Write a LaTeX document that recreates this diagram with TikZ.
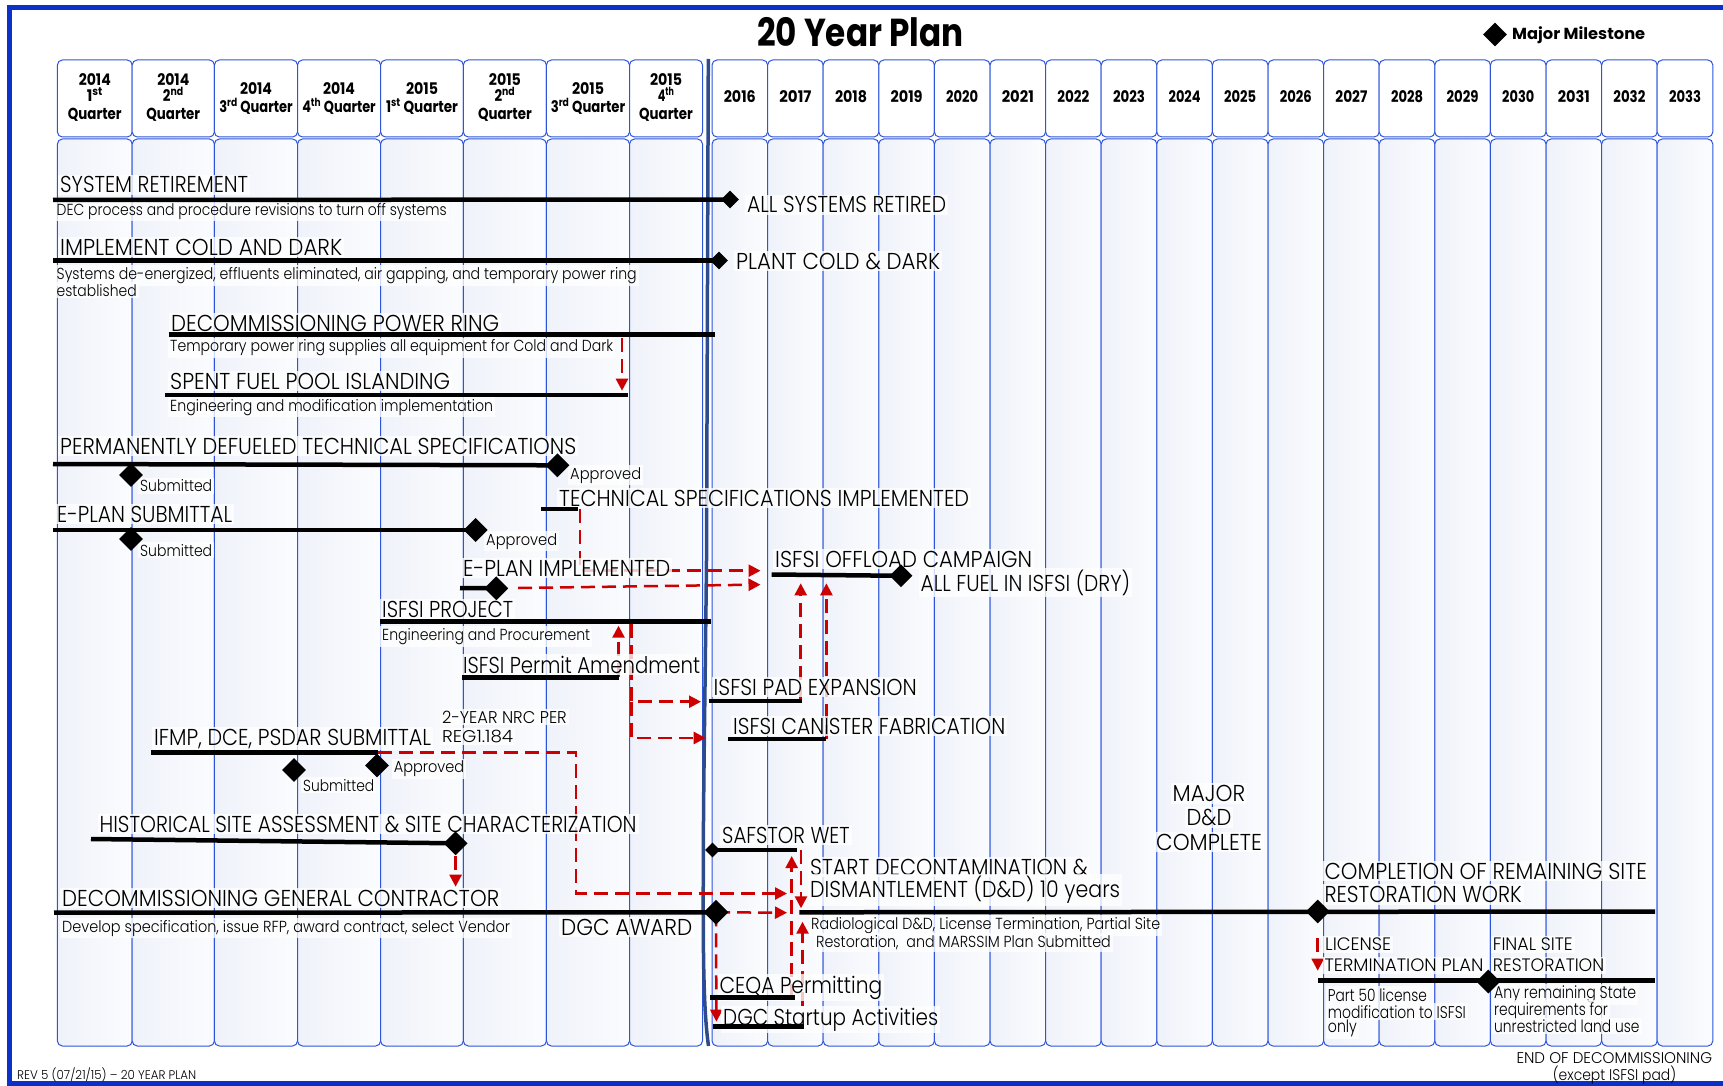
\documentclass[tikz,border=0pt]{standalone}
\usepackage{fontspec}
\IfFontExistsTF{Poppins Light}{\setmainfont{Poppins Light}}{\setmainfont{Poppins}}
\newfontfamily\hdfont{Poppins}
\usepackage{graphicx}
\usetikzlibrary{arrows.meta,shapes.geometric}
\definecolor{frameblue}{RGB}{10,50,200}
\definecolor{cellblue}{RGB}{45,85,220}
\definecolor{cellfillL}{RGB}{239,242,250}
\definecolor{cellfillR}{RGB}{251,252,254}
\definecolor{navyline}{RGB}{46,76,140}
\definecolor{ddred}{RGB}{204,0,0}
\newcommand{\W}[2]{\resizebox{#1pt}{\height}{#2}}
\begin{document}
\begin{tikzpicture}[x=1pt,y=-1pt,
 cellbox/.style={draw=cellblue,line width=1pt,rounded corners=5pt},
 bodycell/.style={cellbox,left color=cellfillL,right color=cellfillR},
 barline/.style={line width=4.5pt,black},
 mstone/.style={diamond,fill=black,inner sep=0pt,minimum width=#1pt,minimum height=#1pt},
 mstone/.default=24,
 redarrow/.style={draw=ddred,line width=2.5pt,dash pattern=on 14pt off 7pt,-{Triangle[length=12pt,width=12pt]}},
 lbl/.style={anchor=base west,xshift=-2pt,inner sep=2pt,fill=white,fill opacity=0.78,text opacity=1,font=\fontsize{23}{27}\selectfont},
 lblc/.style={lbl,anchor=base,xshift=0pt},
 lblm/.style={lbl,font=\fontsize{18}{21}\selectfont},
 sublbl/.style={lbl,font=\fontsize{16}{19}\selectfont},
 smlbl/.style={lbl,font=\fontsize{17}{20}\selectfont},
 plain/.style={inner sep=0pt,font=\fontsize{15.5}{18}\selectfont},
 hd/.style={anchor=base,inner sep=0pt,font=\hdfont\fontsize{16}{19}\selectfont\bfseries}]
\useasboundingbox (0,0) rectangle (1723,1086);
% frame
\draw[frameblue,line width=5pt] (1730,7.5) -- (9,7.5) -- (9,1083.5) -- (1730,1083.5);
% cells
\foreach \a/\b in {57.4/132.2,132.2/214.4,214.4/297.5,297.5/380.6,380.6/463.3,463.3/546.4,546.4/629.5,629.5/702.5}{
  \draw[cellbox,fill=white] (\a,60) rectangle (\b,137);
  \draw[bodycell] (\a,139) rectangle (\b,1046);
}
\foreach \i in {0,...,17}{
  \pgfmathsetmacro\a{712+55.6*\i}
  \pgfmathsetmacro\b{712+55.6*(\i+1)}
  \draw[cellbox,fill=white] (\a,60) rectangle (\b,137);
  \draw[bodycell] (\a,139) rectangle (\b,1046);
}
% separator
\draw[navyline,line width=3.5pt] (708.3,59) -- (706.5,560) .. controls (705,700) and (703.5,780) .. (703.3,860) .. controls (703,960) and (703.5,1010) .. (708.5,1046);
% header texts
\node[anchor=base west,inner sep=0pt,font=\hdfont\fontsize{39}{44}\selectfont\bfseries] (title) at (757,47) {\W{206}{20 Year Plan}};
\node[mstone=24] (leg) at (1495,34.5) {};
\node[anchor=base west,inner sep=0pt,font=\hdfont\fontsize{16}{19}\selectfont\bfseries] (legt) at (1512,39.3) {\W{133}{Major Milestone}};
\node[hd] (q1a) at (94.8,86) {\W{32}{2014}};
\node[hd] (q1b) at (94.8,102) {\W{16}{1\textsuperscript{st}}};
\node[hd] (q1c) at (94.8,119.5) {\W{53.7}{Quarter}};
\node[hd] (q2a) at (173.3,86) {\W{32}{2014}};
\node[hd] (q2b) at (173.3,102) {\W{20.7}{2\textsuperscript{nd}}};
\node[hd] (q2c) at (173.3,119.5) {\W{53.7}{Quarter}};
\node[hd] (q3a) at (256,94.3) {\W{32}{2014}};
\node[hd] (q3b) at (256,112.5) {\W{73.5}{3\textsuperscript{rd} Quarter}};
\node[hd] (q4a) at (339,94.3) {\W{32}{2014}};
\node[hd] (q4b) at (339,112.5) {\W{73.5}{4\textsuperscript{th} Quarter}};
\node[hd] (q5a) at (422,94.3) {\W{32}{2015}};
\node[hd] (q5b) at (422,112.5) {\W{72}{1\textsuperscript{st} Quarter}};
\node[hd] (q6a) at (504.9,86) {\W{32}{2015}};
\node[hd] (q6b) at (504.9,102) {\W{20.7}{2\textsuperscript{nd}}};
\node[hd] (q6c) at (504.9,119.5) {\W{53.7}{Quarter}};
\node[hd] (q7a) at (588,94.3) {\W{32}{2015}};
\node[hd] (q7b) at (588,112.5) {\W{74.4}{3\textsuperscript{rd} Quarter}};
\node[hd] (q8a) at (666,86) {\W{32}{2015}};
\node[hd] (q8b) at (666,102) {\W{16.5}{4\textsuperscript{th}}};
\node[hd] (q8c) at (666,119.5) {\W{53.7}{Quarter}};
\foreach \i in {0,...,17}{
  \pgfmathtruncatemacro\yr{2016+\i}
  \node[hd] (y\i) at ({712+55.6*(\i+0.5)},103) {\W{32}{\yr}};
}
% coordinates
\coordinate (p1a) at (53,200);      \coordinate (p1m) at (730,199.5);
\coordinate (p2a) at (53,260.5);    \coordinate (p2m) at (719,260.5);
\coordinate (p3a) at (168.5,334.3); \coordinate (p3b) at (715,334.3);
\coordinate (p4a) at (165,395);     \coordinate (p4b) at (628,395);
\coordinate (p5a) at (53,464);      \coordinate (p5m) at (557.4,465.3); \coordinate (p5s) at (131,475);
\coordinate (p6a) at (541,509.3);   \coordinate (p6b) at (578,509.3);
\coordinate (p7a) at (53,530);      \coordinate (p7m) at (475.6,530);   \coordinate (p7s) at (131,539);
\coordinate (p8a) at (460,588);     \coordinate (p8m) at (496.3,588.3);
\coordinate (p9a) at (771.7,574.5); \coordinate (p9m) at (901,575.8);
\coordinate (p10a) at (380,621.7);  \coordinate (p10b) at (710.6,621.7);
\coordinate (p11a) at (462,677.3);  \coordinate (p11b) at (619,677.3);
\coordinate (p12a) at (708.6,701);  \coordinate (p12b) at (801.7,701);
\coordinate (p13a) at (728,739);    \coordinate (p13b) at (826,739);
\coordinate (p15a) at (151,752.3);  \coordinate (p15b) at (378,752.3); \coordinate (p15m) at (377,765.5); \coordinate (p15s) at (294,770);
\coordinate (p16a) at (91,839);     \coordinate (p16m) at (455.6,843.3);
\coordinate (p17a) at (54,912.7);   \coordinate (p17m) at (716,912.3);
\coordinate (p18m) at (712.5,850);  \coordinate (p18b) at (796.7,850);
\coordinate (p19a) at (799.4,912.3);\coordinate (p19m) at (1317.7,911.5); \coordinate (p19b) at (1655,911.5);
\coordinate (p20a) at (710,997.7);  \coordinate (p20b) at (794.8,997.7);
\coordinate (p21a) at (712.5,1026.7); \coordinate (p21b) at (803.6,1026.7);
\coordinate (p24a) at (1317.7,980.7); \coordinate (p24m) at (1488.3,981.5); \coordinate (p24b) at (1655,980.7);
% red coordinates
\coordinate (r1a) at (622,338);     \coordinate (r1b) at (622,390.7);
\coordinate (r2a) at (580,509.3);   \coordinate (r2b) at (760.5,570.7);
\coordinate (r3a) at (518,588);     \coordinate (r3b) at (760.5,584.6);
\coordinate (r4a) at (800.7,701);   \coordinate (r4b) at (800.7,583.3);
\coordinate (r5a) at (826.4,739);   \coordinate (r5b) at (826.4,583.3);
\coordinate (r6a) at (618.5,677.3); \coordinate (r6b) at (618.5,625.7);
\coordinate (r7a) at (631.6,624);   \coordinate (r7b) at (701,701.7);
\coordinate (r7c) at (631.6,701.7); \coordinate (r7d) at (705.7,738);
\coordinate (r8c) at (575.9,893.5); \coordinate (r8b) at (787,893.5);
\coordinate (r9a) at (455.6,856);   \coordinate (r9b) at (455.6,886.7);
\coordinate (r10b) at (787,912.7);
\coordinate (r11b) at (716.4,1021.7);
\coordinate (r12a) at (801,850);    \coordinate (r12b) at (801,908.3);
\coordinate (r13a) at (791.7,997.7);\coordinate (r13b) at (791.7,856);
\coordinate (r14a) at (802.5,1026.7); \coordinate (r14b) at (802.5,921.7);
\coordinate (r15a) at (1317.7,938); \coordinate (r15b) at (1317.7,970.7);
% red dashed connectors
\draw[redarrow] (r1a) -- (r1b);
\draw[redarrow] (r2a) |- (r2b);
\draw[redarrow] (r3a) -- (r3b);
\draw[redarrow] (r4a) -- (r4b);
\draw[redarrow] (r5a) -- (r5b);
\draw[redarrow] (r6a) -- (r6b);
\draw[redarrow] (r7a) |- (r7b);
\draw[redarrow] (r7c) |- (r7d);
\draw[redarrow] (p15b) -| (r8c) -- (r8b);
\draw[redarrow] (r9a) -- (r9b);
\draw[redarrow] (p17m) -- (r10b);
\draw[redarrow] (p17m) -- (r11b);
\draw[redarrow] (r12a) -- (r12b);
\draw[redarrow] (r13a) -- (r13b);
\draw[redarrow] (r14a) -- (r14b);
\draw[redarrow] (r15a) -- (r15b);
% labels
\node[lbl] (t1) at (60,193) {\W{188}{SYSTEM RETIREMENT}};
\node[sublbl] (t1s) at (56.5,215) {\W{390}{DEC process and procedure revisions to turn off systems}};
\node[lbl] (t1m) at (747,213) {\W{199}{ALL SYSTEMS RETIRED}};
\node[lbl] (t2) at (60,255) {\W{282}{IMPLEMENT COLD AND DARK}};
\node[sublbl] (t2s) at (56.5,279.3) {\W{580}{Systems de-energized, effluents eliminated, air gapping, and temporary power ring}};
\node[sublbl] (t2s2) at (56.5,296) {\W{80}{established}};
\node[lbl] (t2m) at (736,269) {\W{204}{PLANT COLD \& DARK}};
\node[lbl] (t3) at (171,331) {\W{328}{DECOMMISSIONING POWER RING}};
\node[sublbl] (t3s) at (170,351.7) {\W{443}{Temporary power ring supplies all equipment for Cold and Dark}};
\node[lbl] (t4) at (170,389) {\W{280}{SPENT FUEL POOL ISLANDING}};
\node[sublbl] (t4s) at (170,411) {\W{323}{Engineering and modification implementation}};
\node[lbl] (t5) at (60,454) {\W{516}{PERMANENTLY DEFUELED TECHNICAL SPECIFICATIONS}};
\node[sublbl] (t5a) at (140,491.7) {\W{72}{Submitted}};
\node[sublbl] (t5b) at (570,479) {\W{71}{Approved}};
\node[lbl] (t6) at (559,506) {\W{410}{TECHNICAL SPECIFICATIONS IMPLEMENTED}};
\node[lbl] (t7) at (57,522) {\W{175}{E-PLAN SUBMITTAL}};
\node[sublbl] (t7a) at (140,556) {\W{72}{Submitted}};
\node[sublbl] (t7b) at (486,545) {\W{71}{Approved}};
\node[lbl] (t8) at (463,576) {\W{207}{E-PLAN IMPLEMENTED}};
\node[lbl] (t9) at (775,567) {\W{257}{ISFSI OFFLOAD CAMPAIGN}};
\node[lbl] (t9m) at (920.5,591) {\W{209.5}{ALL FUEL IN ISFSI (DRY)}};
\node[lbl] (t10) at (382,617) {\W{131}{ISFSI PROJECT}};
\node[sublbl] (t10s) at (382,640.5) {\W{208}{Engineering and Procurement}};
\node[lbl] (t11) at (463,673) {\W{237}{ISFSI Permit Amendment}};
\node[lbl] (t12) at (713.5,695) {\W{203}{ISFSI PAD EXPANSION}};
\node[lbl] (t13) at (733,734) {\W{272}{ISFSI CANISTER FABRICATION}};
\node[smlbl] (t14a) at (442,723.3) {\W{124.6}{2-YEAR NRC PER}};
\node[smlbl] (t14b) at (442,742.3) {\W{71}{REG1.184}};
\node[lbl] (t15) at (154,745) {\W{277}{IFMP, DCE, PSDAR SUBMITTAL}};
\node[sublbl] (t15a) at (303,791) {\W{71}{Submitted}};
\node[sublbl] (t15b) at (393.6,772.7) {\W{70.4}{Approved}};
\node[lbl] (t16) at (99.4,832) {\W{537}{HISTORICAL SITE ASSESSMENT \& SITE CHARACTERIZATION}};
\node[lbl] (t17) at (62,906) {\W{437}{DECOMMISSIONING GENERAL CONTRACTOR}};
\node[sublbl] (t17s) at (62,932.3) {\W{448}{Develop specification, issue RFP, award contract, select Vendor}};
\node[lbl] (t17m) at (561,935) {\W{131}{DGC AWARD}};
\node[lbl] (t18) at (722,843) {\W{127.5}{SAFSTOR WET}};
\node[lbl] (t19a) at (810,875) {\W{277.6}{START DECONTAMINATION \&}};
\node[lbl] (t19b) at (810,897.7) {\W{310}{DISMANTLEMENT (D\&D) 10 years}};
\node[sublbl] (t19s) at (811,929.3) {\W{349}{Radiological D\&D, License Termination, Partial Site}};
\node[sublbl] (t19s2) at (816,947.3) {\W{294.5}{Restoration,\ \ and MARSSIM Plan Submitted}};
\node[lbl] (t20) at (719.4,993) {\W{162.6}{CEQA Permitting}};
\node[lbl] (t21) at (723,1025) {\W{215}{DGC Startup Activities}};
\node[lblc] (t22a) at (1211,801.7) {\W{72.7}{MAJOR}};
\node[lblc] (t22b) at (1211,825.7) {\W{44.8}{D\&D}};
\node[lblc] (t22c) at (1211,850) {\W{105.6}{COMPLETE}};
\node[lbl] (t23a) at (1324.3,879.3) {\W{322.4}{COMPLETION OF REMAINING SITE}};
\node[lbl] (t23b) at (1324.3,902.7) {\W{197.3}{RESTORATION WORK}};
\node[lblm] (t24a) at (1325,950.7) {\W{66}{LICENSE}};
\node[lblm] (t24b) at (1324.3,971.7) {\W{159}{TERMINATION PLAN}};
\node[smlbl] (t24s1) at (1327.7,1001) {\W{99}{Part 50 license}};
\node[smlbl] (t24s2) at (1327.7,1018.3) {\W{138}{modification to ISFSI}};
\node[smlbl] (t24s3) at (1327.7,1032.7) {\W{29}{only}};
\node[lblm] (t25a) at (1492.7,950.7) {\W{79.7}{FINAL SITE}};
\node[lblm] (t25b) at (1492.7,971.7) {\W{111.3}{RESTORATION}};
\node[smlbl] (t25s1) at (1494,998.3) {\W{142}{Any remaining State}};
\node[smlbl] (t25s2) at (1494,1015) {\W{113.7}{requirements for}};
\node[smlbl] (t25s3) at (1494,1032.3) {\W{145.3}{unrestricted land use}};
\node[plain,anchor=base east] (t26a) at (1712.3,1063.3) {\W{195.6}{END OF DECOMMISSIONING}};
\node[plain,anchor=base] (t26b) at (1614.5,1080) {\W{123.3}{(except ISFSI pad)}};
\node[plain,anchor=base west,font=\fontsize{12.5}{15}\selectfont] (t27) at (17,1079.3) {\W{179}{REV 5 (07/21/15) – 20 YEAR PLAN}};
% bars
\draw[barline] (p1a) -- (p1m);
\draw[barline] (p2a) -- (p2m);
\draw[barline] (p3a) -- (p3b);
\draw[barline] (p4a) -- (p4b);
\draw[barline] (p5a) -- (p5m);
\draw[barline,line width=4pt] (p6a) -- (p6b);
\draw[barline] (p7a) -- (p7m);
\draw[barline] (p8a) -- (p8m);
\draw[barline] (p9a) -- (p9m);
\draw[barline] (p10a) -- (p10b);
\draw[barline] (p11a) -- (p11b);
\draw[barline] (p12a) -- (p12b);
\draw[barline] (p13a) -- (p13b);
\draw[barline] (p15a) -- (p15b);
\draw[barline] (p16a) -- (p16m);
\draw[barline] (p17a) -- (p17m);
\draw[barline] (p18m) -- (p18b);
\draw[barline] (p19a) -- (p19b);
\draw[barline] (p20a) -- (p20b);
\draw[barline] (p21a) -- (p21b);
\draw[barline] (p24a) -- (p24b);
% milestones
\node[mstone=18] (d1) at (p1m) {};
\node[mstone=18] (d2) at (p2m) {};
\node[mstone] (d5) at (p5m) {};
\node[mstone] (d5s) at (p5s) {};
\node[mstone] (d7) at (p7m) {};
\node[mstone] (d7s) at (p7s) {};
\node[mstone] (d8) at (p8m) {};
\node[mstone=23] (d9) at (p9m) {};
\node[mstone] (d15) at (p15m) {};
\node[mstone] (d15s) at (p15s) {};
\node[mstone] (d16) at (p16m) {};
\node[mstone=25] (d17) at (p17m) {};
\node[mstone=15] (d18) at (p18m) {};
\node[mstone] (d19) at (p19m) {};
\node[mstone] (d24) at (p24m) {};
\end{tikzpicture}
\end{document}
